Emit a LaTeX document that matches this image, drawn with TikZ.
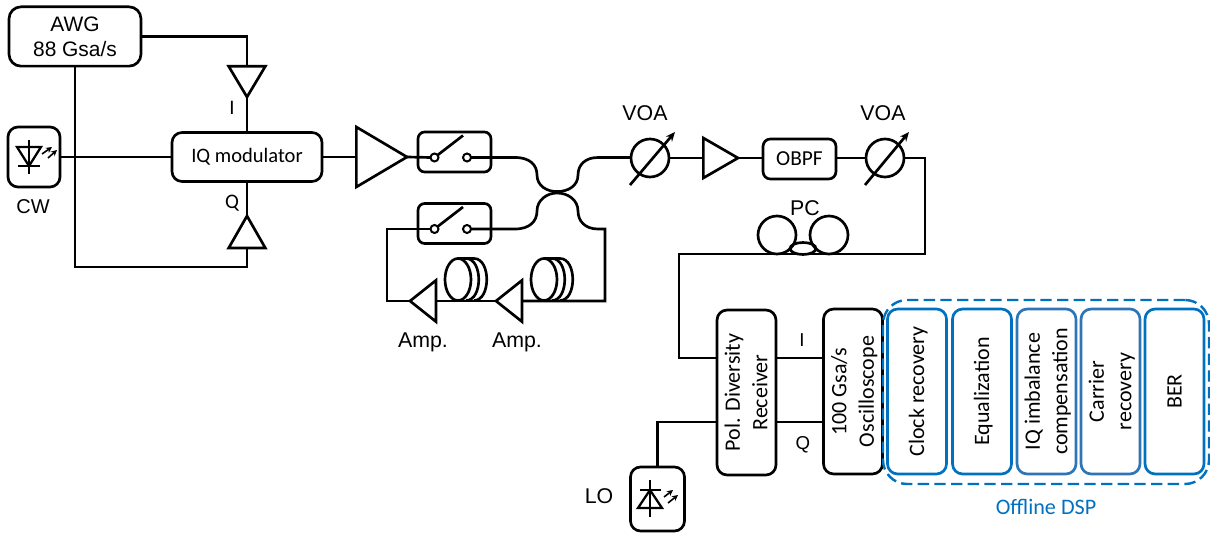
\documentclass[tikz,border=0pt]{standalone}
\usepackage{fontspec}
\setmainfont{Liberation Sans}
\newfontfamily\calfont{Carlito}
\usetikzlibrary{shapes.geometric,arrows.meta,calc}
\definecolor{dspblue}{HTML}{0070C0}
\definecolor{dspblueb}{HTML}{2E75B6}
\newcommand{\rottext}[1]{\hspace{2.5pt}\rotatebox{90}{\begin{tabular}{@{}c@{}}#1\end{tabular}}}
\tikzset{
  x=0.75pt,y=-0.75pt,
  every node/.style={outer sep=0pt,inner sep=0pt},
  wire/.style={line width=2pt,line join=miter},
  ablk/.style={draw,line width=2pt,rounded corners=7.5pt,rectangle,align=center},
  sbox/.style={ablk,font=\calfont\fontsize{15.4}{18}\selectfont},
  rbox/.style={ablk,font=\calfont\fontsize{16.5}{20.5}\selectfont,minimum width=44.2pt,minimum height=123.7pt},
  dbox/.style={rbox,draw=dspblue},
  dboxb/.style={rbox,draw=dspblueb},
  lab/.style={font=\fontsize{16}{18}\selectfont},
  clab/.style={font=\calfont\fontsize{15.5}{18}\selectfont},
  amp/.style={draw,line width=2pt,isosceles triangle,isosceles triangle stretches,anchor=apex,line join=miter},
  voa/.style={draw,line width=2pt,circle,minimum size=28.5pt},
  voaarrow/.style={line width=2pt,-{Stealth[length=7pt,width=6pt]}},
  port/.style={draw,line width=1.5pt,circle,minimum size=6pt,fill=white},
  swbox/.style={ablk,minimum width=54.7pt,minimum height=30pt,rounded corners=5pt},
  ic/.style={line width=1.7pt},
  tiny/.style={line width=1.2pt,-{Stealth[length=4.5pt,width=4.5pt]}},
}
\begin{document}
\begin{tikzpicture}
\useasboundingbox (0,0) rectangle (1210,534);
% blocks
\node[ablk,minimum width=99pt,minimum height=44.5pt,font=\fontsize{15.7}{19}\selectfont,rounded corners=9pt] (awg) at (75,36.5) {AWG\\88 Gsa/s};
\node[ablk,minimum width=39pt,minimum height=45pt] (cw) at (34,157) {};
\node[lab,font=\fontsize{15}{18}\selectfont] (cwl) at (33,207) {CW};
\node[sbox,minimum width=112.5pt,minimum height=36.7pt] (iq) at (247,157) {IQ modulator};
\node[amp,minimum width=27.5pt,minimum height=23pt,shape border rotate=-90] (ampi) at (247,97) {};
\node[amp,minimum width=27.5pt,minimum height=24pt,shape border rotate=90] (ampq) at (247,216) {};
\node[clab] (il) at (232,108) {I};
\node[clab] (ql) at (232,203) {Q};
\node[amp,minimum width=45pt,minimum height=38pt,shape border rotate=0] (amp1) at (407,157) {};
% switches
\node[swbox] (sw1) at (454.5,152) {};
\node[swbox] (sw2) at (454.5,223.5) {};
\coordinate (l1) at (463,135.5);
\coordinate (l2) at (463,207);
\node[port] (s1a) at (434.5,157.5) {};
\node[port] (s1b) at (467,157.5) {};
\node[port] (s2a) at (434.5,229) {};
\node[port] (s2b) at (467,229) {};
\draw[wire] (s1a) -- (l1);
\draw[wire] (s2a) -- (l2);
% amps in loop
\node[amp,minimum width=31pt,minimum height=19.5pt,shape border rotate=180] (amp2) at (410,301) {};
\node[amp,minimum width=31pt,minimum height=19.5pt,shape border rotate=180] (amp3) at (496,301) {};
\node[lab] (a2l) at (423,342) {Amp.};
\node[lab] (a3l) at (517,342) {Amp.};
% coils
\node[draw,line width=2pt,ellipse,minimum width=19.5pt,minimum height=31.5pt] (c1) at (458,279.5) {};
\node[draw,line width=2pt,ellipse,minimum width=19.5pt,minimum height=31.5pt] (c2) at (544,279.5) {};
\foreach \cx in {458,544}{
  \draw[wire] (\cx+8,258.5) .. controls (\cx+25,258.5) and (\cx+25,300.5) .. (\cx+8,300.5);
  \draw[wire] (\cx+16,258.5) .. controls (\cx+33,258.5) and (\cx+33,300.5) .. (\cx+16,300.5);
  \draw[wire] (\cx,258.5) -- (\cx+16,258.5);
}
% VOA etc
\node[voa] (v1) at (650,158) {};
\node[voa] (v2) at (885,158) {};
\node[lab] (v1l) at (645,113) {VOA};
\node[lab] (v2l) at (883,113) {VOA};
\coordinate (v1s) at (630,185); \coordinate (v1e) at (675,132);
\coordinate (v2s) at (865,185); \coordinate (v2e) at (909,132);
\draw[voaarrow] (v1s) -- (v1e);
\draw[voaarrow] (v2s) -- (v2e);
\node[amp,minimum width=30pt,minimum height=26pt,shape border rotate=0] (amp4) at (738,158) {};
\node[sbox,font=\calfont\fontsize{16}{18}\selectfont,minimum width=54.7pt,minimum height=30pt,rounded corners=5.5pt] (obpf) at (799.5,159) {OBPF};
% PC
\node[draw,line width=2pt,circle,minimum size=28.5pt] (pc1) at (777,235) {};
\node[draw,line width=2pt,circle,minimum size=28.5pt] (pc2) at (829,235) {};
\node[draw,line width=2pt,ellipse,minimum width=19.5pt,minimum height=9pt] (pc3) at (803,248.5) {};
\node[lab] (pcl) at (805,208) {PC};
% receiver
\node[rbox] (pol) at (746.5,392.5) {\rottext{Pol. Diversity\\Receiver}};
\node[rbox] (osc) at (853,391.5) {\rottext{100 Gsa/s\\Oscilloscope}};
\node[lab,font=\fontsize{14}{16}\selectfont] (ril) at (802,340) {I};
\node[lab,font=\fontsize{14}{16}\selectfont] (rql) at (803,445) {Q};
\node[ablk,minimum width=40.5pt,minimum height=48pt] (lo) at (657.5,499) {};
\node[lab] (lol) at (599,496) {LO};
% DSP
\node[dbox] (d1) at (917,391.5) {\rottext{Clock recovery}};
\node[dbox] (d2) at (982,391.5) {\rottext{Equalization}};
\node[dboxb] (d3) at (1046.5,391.5) {\rottext{IQ imbalance\\compensation}};
\node[dboxb] (d4) at (1110.5,391.5) {\rottext{Carrier\\recovery}};
\node[dbox] (d5) at (1174.5,391.5) {\rottext{BER}};
\node[draw=dspblue,line width=1.8pt,dash pattern=on 8.5pt off 4pt,rounded corners=18pt,minimum width=244.5pt,minimum height=138pt] (dsp) at (1046,392) {};
\node[font=\calfont\fontsize{16.6}{18}\selectfont,text=dspblue] (dspl) at (1046,507) {Offline DSP};
% CW icon
\draw[ic] (29,140) -- (29,174);
\draw[ic,line join=miter] (17,147) -- (41,147) -- (29,166) -- cycle;
\draw[ic] (18,166) -- (40,166);
\draw[tiny] (42,154) -- (52,147);
\draw[tiny] (48,158) -- (57,150);
% LO icon
\draw[ic] (650,480) -- (650,517);
\draw[ic,line join=miter] (638,508) -- (662,508) -- (650,490) -- cycle;
\draw[ic] (640,490) -- (661,490);
\draw[tiny] (664,497) -- (673,490);
\draw[tiny] (668,503) -- (678,495);
% connectors
\draw[wire] (awg.east) -- (ampi.apex |- awg.east) -- (ampi.lower side);
\draw[wire] (ampi.apex) -- (ampi.apex |- iq.north);
\draw[wire] (ampq.apex) -- (ampq.apex |- iq.south);
\draw[wire] (awg.south) -- (awg.south |- 0,267) -- (ampq.apex |- 0,267) -- (ampq.lower side);
\draw[wire] (cw.east) -- (iq.west);
\draw[wire] (iq.east) -- (amp1.lower side);
\draw[wire] (amp1.apex) -- (s1a.west);
\coordinate (ca) at (515,157.5); \coordinate (cb) at (598,157.5);
\coordinate (cc) at (515,229); \coordinate (cd) at (598,229);
\draw[wire] (s1b.east) -- (ca) .. controls (530,157.5) and (537,165) .. (537,175) .. controls (537,186) and (547,191.6) .. (557,191.6) .. controls (568,191.6) and (578,186) .. (578,175) .. controls (578,165) and (585,157.5) .. (cb) -- (v1.west |- cb);
\draw[wire] (s2b.east) -- (cc) .. controls (530,229) and (537,221) .. (537,211) .. controls (537,200) and (547,193) .. (557,193) .. controls (568,193) and (578,200) .. (578,211) .. controls (578,221) and (585,229) .. (cd) -- (605,229) -- (605,301) -- (amp3.lower side);
\draw[wire] (s2a.west) -- (387,229) -- (387,301) -- (amp2.apex);
\draw[wire] (amp3.apex) -- (amp2.lower side);
\draw[wire] (v1.east) -- (amp4.lower side);
\draw[wire] (amp4.apex) -- (obpf.west |- amp4.apex);
\draw[wire] (obpf.east |- v2.west) -- (v2.west);
\draw[wire] (v2.east) -- (925,158) -- (925,254) -- (679,254) -- (679,358) -- (pol.west |- 0,358);
\draw[wire] (pol.east |- 0,358) -- (osc.west |- 0,358);
\draw[wire] (pol.east |- 0,422) -- (osc.west |- 0,422);
\draw[wire] (pol.west |- 0,422) -- (lo.north |- 0,422) -- (lo.north);
\end{tikzpicture}
\end{document}
